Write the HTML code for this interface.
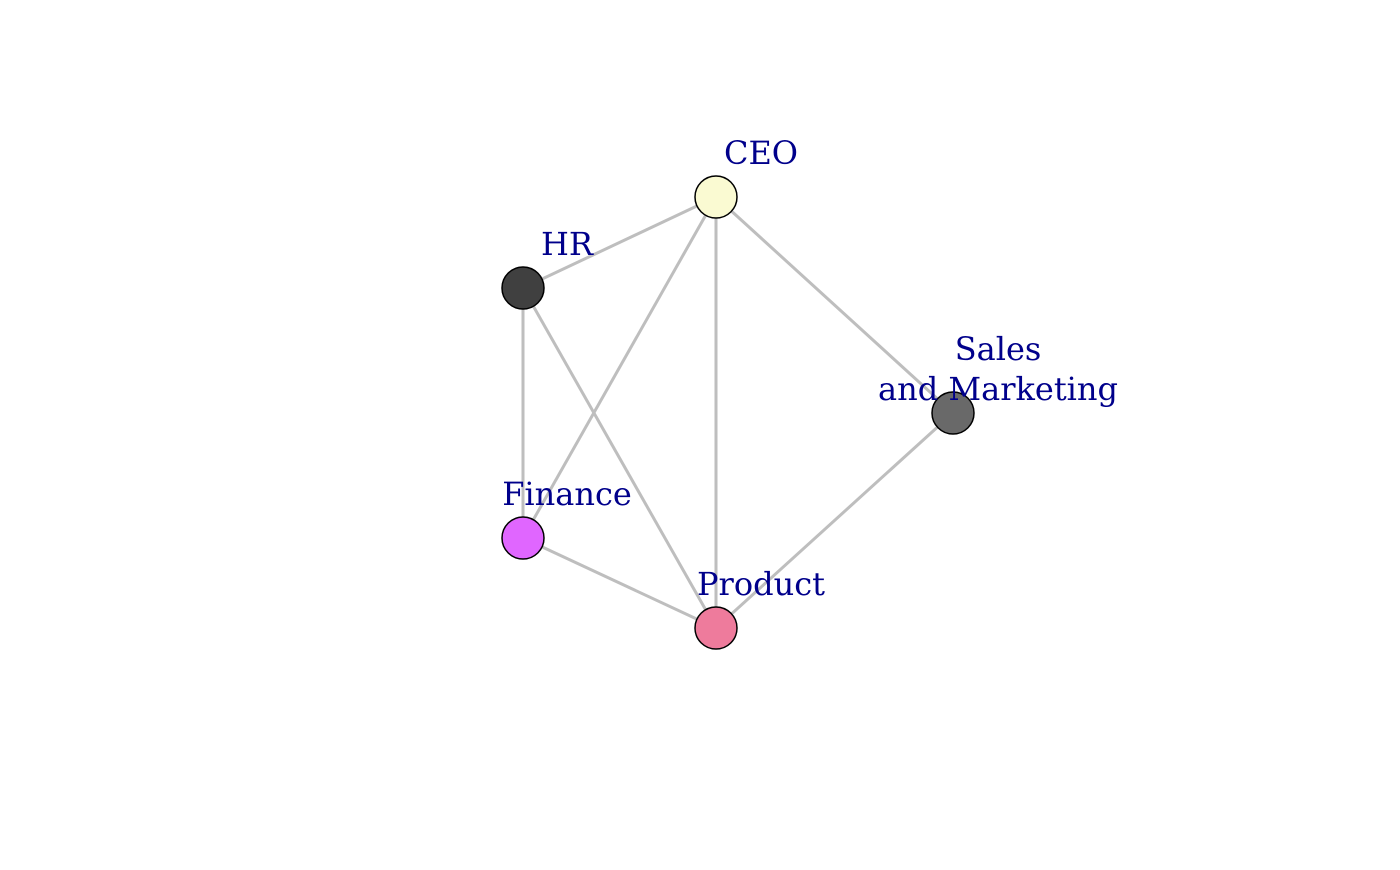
<!DOCTYPE html>
<html><head><style>body{margin:0;background:#fff}</style></head><body>
<svg width="1400" height="865" xmlns="http://www.w3.org/2000/svg">
<g stroke="#bebebe" stroke-width="3">
<line x1="716" y1="197" x2="523" y2="288"/>
<line x1="716" y1="197" x2="523" y2="538"/>
<line x1="716" y1="197" x2="716" y2="628"/>
<line x1="716" y1="197" x2="953" y2="413"/>
<line x1="523" y1="288" x2="523" y2="538"/>
<line x1="523" y1="288" x2="716" y2="628"/>
<line x1="523" y1="538" x2="716" y2="628"/>
<line x1="953" y1="413" x2="716" y2="628"/>
</g>
<g stroke="#000" stroke-width="1.5">
<circle cx="716" cy="197" r="21" fill="#fafad2"/>
<circle cx="523" cy="288" r="21" fill="#404040"/>
<circle cx="953" cy="413" r="21" fill="#696969"/>
<circle cx="523" cy="538" r="21" fill="#e066ff"/>
<circle cx="716" cy="628" r="21" fill="#ee7b9c"/>
</g>
<g font-family="'DejaVu Serif','Liberation Serif',serif" font-size="32" fill="#00008b" text-anchor="middle">
<text x="761" y="164">CEO</text>
<text x="567" y="255">HR</text>
<text x="998" y="360">Sales</text>
<text x="998" y="400">and Marketing</text>
<text x="567" y="505">Finance</text>
<text x="761" y="595">Product</text>
</g>
</svg>
</body></html>
